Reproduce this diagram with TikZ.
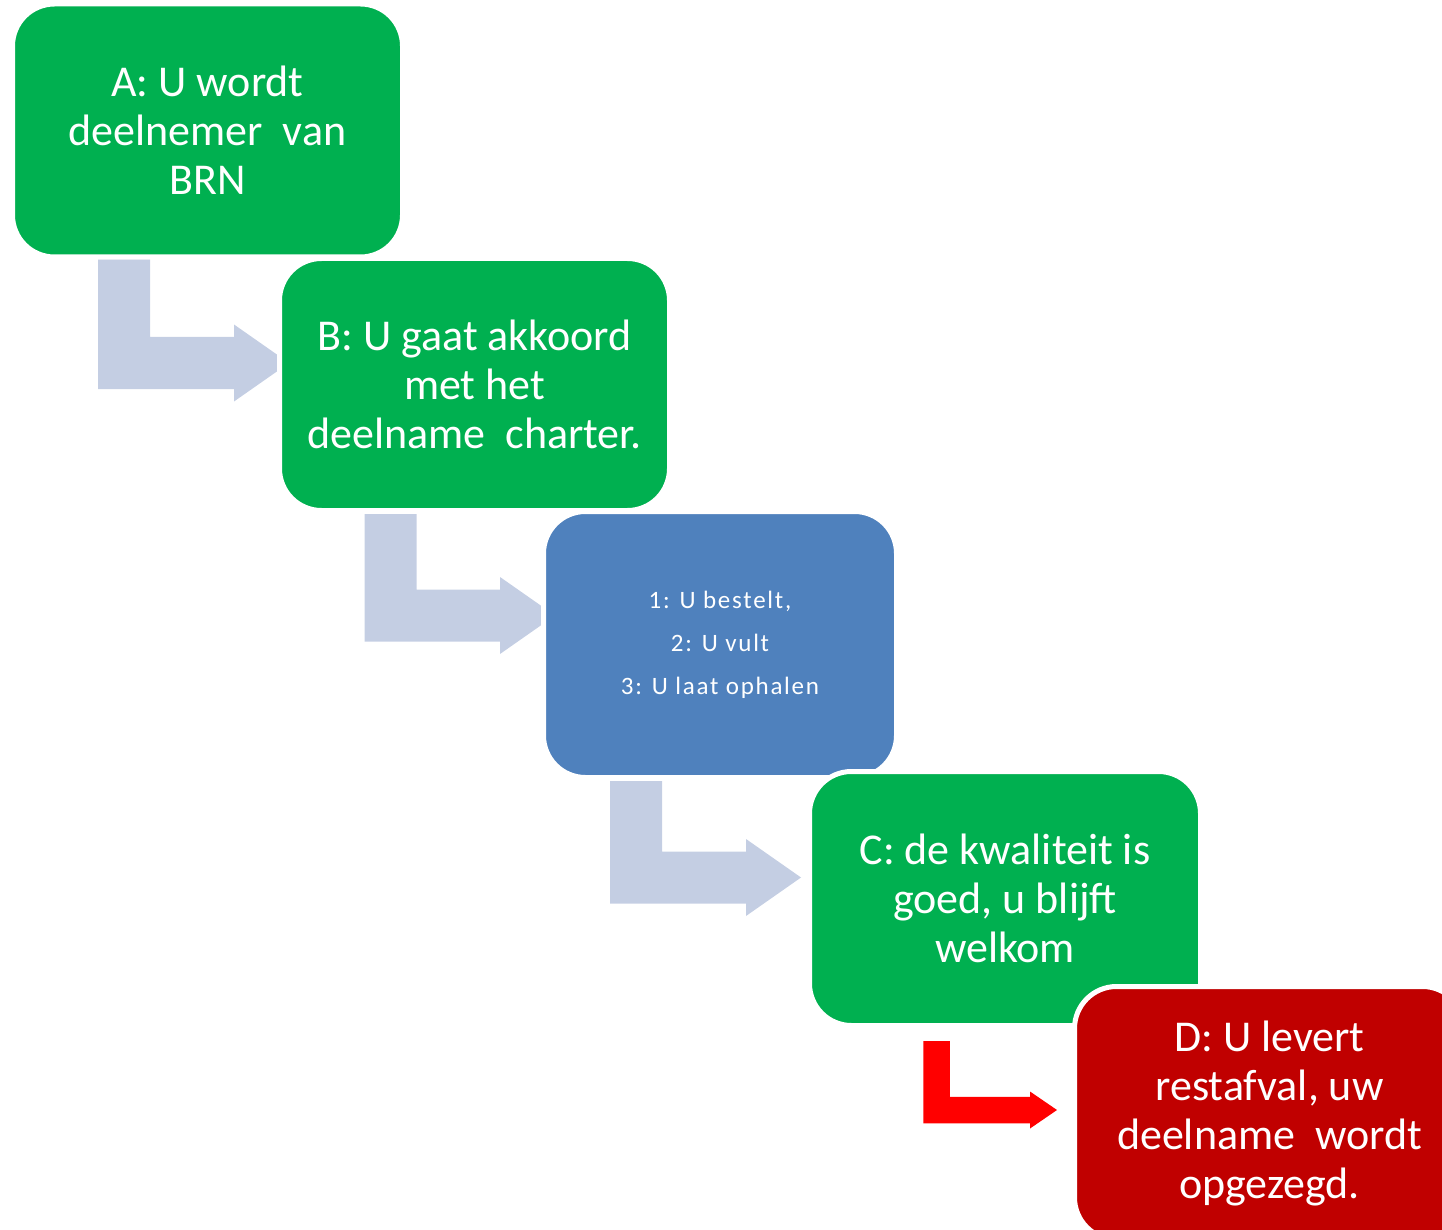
\documentclass[tikz,border=0pt]{standalone}
\usepackage{fontspec}
\setmainfont{Carlito}
\usetikzlibrary{calc,positioning,backgrounds}
\definecolor{brngreen}{HTML}{00B050}
\definecolor{brnblue}{HTML}{4F81BD}
\definecolor{brnred}{HTML}{C00000}
\definecolor{elbowgrey}{HTML}{C4CEE3}
\definecolor{elbowred}{HTML}{FF0000}
\tikzstyle{stepbox} = [rectangle, rounded corners=42pt, draw=white, line width=5pt, outer sep=0pt, inner sep=0pt, text=white, align=center, font=\fontsize{44}{49}\selectfont]
\tikzstyle{greenbox} = [stepbox, fill=brngreen, minimum width=390pt, minimum height=253pt]
% L-shaped block arrow: colour, from, tip, bar width, half head width, head length
\newcommand{\elbow}[6]{%
  \fill[#1] let \p1=(#2), \p2=(#3) in
    (\x1-#4/2,\y1) -- (\x1+#4/2,\y1) -- (\x1+#4/2,\y2+#4/2) -- (\x2-#6,\y2+#4/2)
    -- (\x2-#6,\y2+#5) -- (\x2,\y2) -- (\x2-#6,\y2-#5) -- (\x2-#6,\y2-#4/2)
    -- (\x1-#4/2,\y2-#4/2) -- cycle;}

\begin{document}
\begin{tikzpicture}[x=1pt,y=-1pt]
\useasboundingbox (0,0) rectangle (1442,1230);

\node[greenbox] (A) at (207.5,130.5) {A: U wordt\\deelnemer\ \ van\\BRN};
\node[greenbox, minimum height=252pt] (B) at (474.5,384.5) {B: U gaat akkoord\\met het\\deelname\ \ charter.};
\node[stepbox, fill=brnblue, minimum width=353pt, minimum height=266pt,
      font=\fontsize{25}{43}\selectfont\addfontfeatures{LetterSpace=7}] (S) at (720,644.5)
      {1: U bestelt,\\2: U vult\\3: U laat ophalen};
\node[greenbox, minimum width=391pt, minimum height=254pt] (C) at (1005,898.5) {C: de kwaliteit is\\goed, u blijft\\welkom};
\node[stepbox, fill=brnred, minimum width=390pt, minimum height=253pt] (D) at (1269.5,1113) {D: U levert\\restafval, uw\\deelname\ \ wordt\\opgezegd.};

\coordinate (a1) at ($(A.south west)+(111.5,2.5)$);
\coordinate (b1) at ($(B.west)+(9.5,-21.5)$);
\coordinate (a2) at ($(B.south west)+(111,3.5)$);
\coordinate (b2) at ($(S.west)+(11.5,-29)$);
\coordinate (a3) at ($(S.south west)+(92.5,3.5)$);
\coordinate (b3) at ($(C.west)+(-8.5,-21)$);
\coordinate (a4) at ($(C.south west)+(127,15.5)$);
\coordinate (b4) at ($(D.west)+(-17.5,-3)$);

\begin{scope}[on background layer]
\elbow{elbowgrey}{a1}{b1}{52pt}{38.5pt}{55pt}
\elbow{elbowgrey}{a2}{b2}{52pt}{38.5pt}{55pt}
\elbow{elbowgrey}{a3}{b3}{52pt}{38.5pt}{55pt}
\elbow{elbowred}{a4}{b4}{26.5pt}{18.5pt}{27pt}
\end{scope}
\end{tikzpicture}
\end{document}
